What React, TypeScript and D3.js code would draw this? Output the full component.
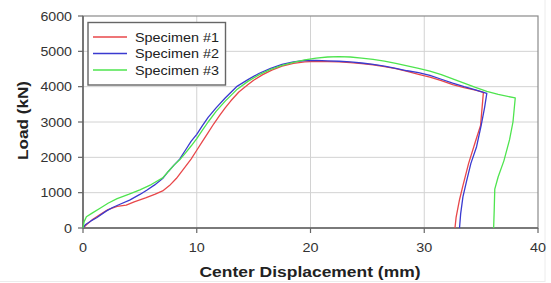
import React from "react";
import * as d3 from "d3";

const xTicks = [0, 10, 20, 30, 40];
const yTicks = [0, 1000, 2000, 3000, 4000, 5000, 6000];
const seriesNames = ["Specimen #1", "Specimen #2", "Specimen #3"];
const seriesColors = ["#e8474a", "#3a3ad0", "#4ee44e"];

const specimen1: [number, number][] = [
  [0, 0], [0.3, 90], [0.8, 230], [1.5, 380], [2.2, 520], [3, 610], [3.8, 650], [4.5, 740],
  [5.5, 850], [6.3, 950], [7, 1050], [7.6, 1200], [8.2, 1400], [8.8, 1650], [9.5, 1950],
  [10, 2200], [10.5, 2450], [11, 2700], [11.5, 2950], [12, 3180], [12.5, 3400], [13, 3600],
  [13.7, 3850], [14.4, 4030], [15, 4180], [15.8, 4340], [16.6, 4470], [17.5, 4580],
  [18.5, 4660], [19.5, 4700], [20.5, 4715], [21.5, 4710], [22.5, 4700], [23.5, 4680],
  [24.5, 4650], [25.5, 4620], [26.5, 4570], [27.5, 4510], [28.5, 4430], [29.5, 4350],
  [30.5, 4270], [31.5, 4170], [32.5, 4060], [33.5, 3970], [34.5, 3900], [35.2, 3840],
  [34.95, 2900], [34.5, 2450], [33.9, 1830], [33.4, 1200], [33.1, 800], [32.8, 300], [32.7, 0],
];

const specimen2: [number, number][] = [
  [0, 0], [0.2, 90], [0.7, 200], [1.2, 290], [2, 470], [2.6, 580], [3.3, 680], [4.1, 790],
  [5, 950], [5.6, 1070], [6.3, 1220], [7, 1400], [7.5, 1600], [8, 1780], [8.5, 1950],
  [9, 2200], [9.5, 2450], [10, 2650], [10.5, 2900], [11, 3130], [11.7, 3400], [12.5, 3680],
  [13.5, 4000], [14.5, 4200], [15.5, 4380], [16.5, 4520], [17.5, 4630], [18.5, 4700],
  [19.5, 4740], [20.5, 4745], [21.5, 4730], [22.5, 4720], [23.5, 4700], [24.5, 4670],
  [25.5, 4630], [26.5, 4580], [27.5, 4520], [28.5, 4450], [29.5, 4400], [30.5, 4320],
  [31.5, 4210], [32.5, 4100], [33.5, 4000], [34.5, 3910], [35.5, 3810], [35.3, 3400],
  [35, 2900], [34.6, 2300], [34.1, 1830], [33.7, 1300], [33.4, 880], [33.2, 400], [33.1, 0],
];

const specimen3: [number, number][] = [
  [0, 0], [0.1, 180], [0.3, 320], [0.8, 420], [1.5, 560], [2.2, 700], [3, 830], [4, 950],
  [5, 1080], [6, 1230], [7, 1420], [7.5, 1600], [8, 1780], [8.5, 1930], [9, 2120],
  [9.5, 2320], [10, 2530], [10.5, 2770], [11, 3000], [11.7, 3300], [12.5, 3590],
  [13.5, 3910], [14.5, 4150], [15.5, 4340], [16.5, 4490], [17.5, 4600], [18.5, 4690],
  [19.5, 4760], [20.5, 4810], [21.5, 4840], [22.5, 4850], [23.5, 4840], [24.5, 4810],
  [25.5, 4770], [26.5, 4720], [27.5, 4660], [28.5, 4590], [29.5, 4520], [30.5, 4440],
  [31.5, 4340], [32.5, 4220], [33.5, 4100], [34.5, 3980], [35.5, 3870], [36.5, 3780],
  [38, 3680], [37.8, 3000], [37.5, 2500], [37, 1900], [36.5, 1450], [36.2, 1100],
  [36.15, 500], [36.1, 0],
];

const allSeries = [specimen1, specimen2, specimen3];

const W = 551;
const H = 283;
const left = 83;
const right = 538;
const top = 16;
const bottom = 228;
const FONT = "'Liberation Sans', Arial, sans-serif";

export default function App() {
  const x = d3.scaleLinear().domain([0, 40]).range([left, right]);
  const y = d3.scaleLinear().domain([0, 6000]).range([bottom, top]);
  const line = d3
    .line<[number, number]>()
    .x((d) => x(d[0]))
    .y((d) => y(d[1]));

  return (
    <svg
      width={W}
      height={H}
      style={{ position: "absolute", left: 0, top: 0, background: "#fff" }}
      fontFamily={FONT}
    >
      <rect x={0} y={0} width={W} height={H} fill="#fff" />
      <line x1={545} y1={0} x2={545} y2={282} stroke="#ececec" />
      <line x1={0} y1={281.5} x2={545} y2={281.5} stroke="#ececec" />
      {/* grid */}
      {xTicks.slice(1, -1).map((t) => (
        <line key={"gx" + t} x1={x(t)} x2={x(t)} y1={top} y2={bottom} stroke="#d2d2d2" strokeWidth={1} />
      ))}
      {yTicks.slice(1, -1).map((t) => (
        <line key={"gy" + t} x1={left} x2={right} y1={y(t)} y2={y(t)} stroke="#d2d2d2" strokeWidth={1} />
      ))}
      {/* frame */}
      <rect x={left} y={top} width={right - left} height={bottom - top} fill="none" stroke="#8a8a8a" strokeWidth={1.2} />
      <line x1={left} x2={left} y1={top} y2={bottom} stroke="#666" strokeWidth={1.6} />
      <line x1={left} x2={right} y1={bottom} y2={bottom} stroke="#666" strokeWidth={1.6} />
      {/* ticks */}
      {yTicks.map((t) => (
        <g key={"ty" + t}>
          <line x1={left - 5} x2={left} y1={y(t)} y2={y(t)} stroke="#666" strokeWidth={1.2} />
          <text
            x={72}
            y={y(t) + 4.6}
            textAnchor="end"
            fontSize={12.5}
            fill="#333"
            textLength={t === 0 ? 8 : 31.5}
            lengthAdjust="spacingAndGlyphs"
          >
            {t}
          </text>
        </g>
      ))}
      {xTicks.map((t) => (
        <g key={"tx" + t}>
          <line x1={x(t)} x2={x(t)} y1={bottom} y2={bottom + 5} stroke="#666" strokeWidth={1.2} />
          <text
            x={x(t)}
            y={251.5}
            textAnchor="middle"
            fontSize={12.5}
            fill="#333"
            textLength={t === 0 ? 8 : 16}
            lengthAdjust="spacingAndGlyphs"
          >
            {t}
          </text>
        </g>
      ))}
      {/* series */}
      {allSeries.map((s, i) => (
        <path key={"s" + i} d={line(s) || ""} fill="none" stroke={seriesColors[i]} strokeWidth={1.3} strokeLinejoin="round" />
      ))}
      {/* legend */}
      <rect x={88} y={22.5} width={137.5} height={62.5} fill="#fff" stroke="#666" strokeWidth={1.4} />
      {seriesNames.map((n, i) => {
        const ry = 37 + i * 16.5;
        return (
          <g key={"lg" + i}>
            <line x1={93} x2={127} y1={ry} y2={ry} stroke={seriesColors[i]} strokeWidth={1.3} />
            <text x={135} y={ry + 4.6} fontSize={13} fill="#222" textLength={84} lengthAdjust="spacingAndGlyphs">
              {n}
            </text>
          </g>
        );
      })}
      {/* axis titles */}
      <text
        x={310}
        y={276.5}
        textAnchor="middle"
        fontSize={14.5}
        fontWeight="bold"
        fill="#222"
        textLength={221}
        lengthAdjust="spacingAndGlyphs"
      >
        Center Displacement (mm)
      </text>
      <text
        transform={`translate(27.8,120.5) rotate(-90)`}
        textAnchor="middle"
        fontSize={14.5}
        fontWeight="bold"
        fill="#222"
        textLength={79}
        lengthAdjust="spacingAndGlyphs"
      >
        Load (kN)
      </text>
    </svg>
  );
}
